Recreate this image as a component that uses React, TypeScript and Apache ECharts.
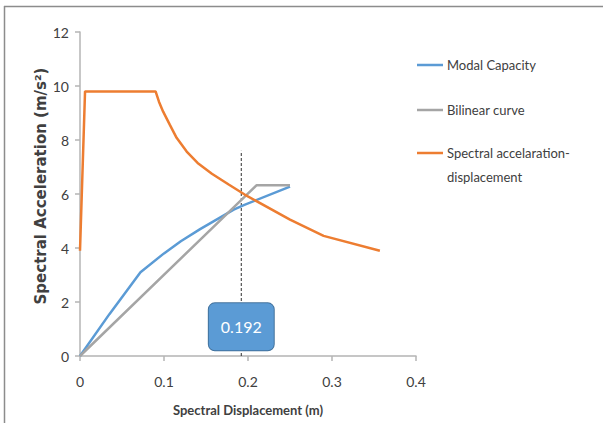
import React, { useEffect, useRef } from "react";
import * as echarts from "echarts";

// Capacity spectrum: displacement (m) vs. spectral acceleration (m/s²)
const modalCapacity: [number, number][] = [
  [0, 0], [0.035, 1.55], [0.072, 3.1], [0.1, 3.8], [0.12, 4.25],
  [0.143, 4.7], [0.183, 5.42], [0.195, 5.59], [0.25, 6.27],
];
const bilinearCurve: [number, number][] = [
  [0, 0], [0.21, 6.32], [0.25, 6.32],
];
const demandSpectrum: [number, number][] = [
  [0, 3.9], [0.006, 9.8], [0.09, 9.8], [0.094, 9.42], [0.099, 9.05],
  [0.107, 8.56], [0.115, 8.08], [0.127, 7.57], [0.14, 7.15],
  [0.157, 6.75], [0.177, 6.35], [0.196, 5.98], [0.25, 5.05],
  [0.29, 4.45], [0.357, 3.9],
];
const performancePoint = 0.192;
const guideTop = 7.6;
const xTicks = { min: 0, max: 0.4, interval: 0.1 };
const yTicks = { min: 0, max: 12, interval: 2 };

const BLUE = "#5B9BD5";
const GRAY = "#A5A5A5";
const ORANGE = "#ED7D31";
const TEXT = "#404040";
const AXIS = "#B4B4B4";
const FONT = "Lato, 'Open Sans', sans-serif";

const legendItems = [
  { name: "Modal Capacity", color: BLUE, y: 65 },
  { name: "Bilinear curve", color: GRAY, y: 110 },
  { name: "Spectral accelaration-\ndisplacement", color: ORANGE, y: 153 },
];

export default function App() {
  const ref = useRef<HTMLDivElement>(null);

  useEffect(() => {
    if (!ref.current) return;
    const chart = echarts.init(ref.current, undefined, { renderer: "svg" });

    const legendGraphics: any[] = [];
    legendItems.forEach((it) => {
      legendGraphics.push({
        type: "line",
        shape: { x1: 417, y1: it.y, x2: 443, y2: it.y },
        style: { stroke: it.color, lineWidth: 2.5 },
      });
      legendGraphics.push({
        type: "text",
        x: 447,
        y: it.y - 12,
        style: {
          text: it.name,
          fill: TEXT,
          font: `13px ${FONT}`,
          lineHeight: 24,
          verticalAlign: "top",
        },
      });
    });

    const lineSeries = (name: string, data: [number, number][], color: string) => ({
      name,
      type: "line",
      data,
      showSymbol: false,
      symbol: "none",
      lineStyle: { color, width: 2.5 },
      itemStyle: { color },
      z: 3,
    });

    chart.setOption({
      animation: false,
      backgroundColor: "#ffffff",
      grid: { left: 80, right: 187, top: 32, bottom: 67, containLabel: false },
      xAxis: {
        type: "value",
        ...xTicks,
        axisLine: { show: true, lineStyle: { color: AXIS, width: 1.5 } },
        axisTick: { show: true, length: 5, inside: false, lineStyle: { color: AXIS, width: 1.5 } },
        axisLabel: { color: TEXT, fontSize: 14, fontFamily: FONT, margin: 18 },
        splitLine: { show: false },
      },
      yAxis: {
        type: "value",
        ...yTicks,
        axisLine: { show: true, lineStyle: { color: AXIS, width: 1.5 } },
        axisTick: { show: true, length: 5, inside: false, lineStyle: { color: AXIS, width: 1.5 } },
        axisLabel: { color: TEXT, fontSize: 14, fontFamily: FONT, margin: 11 },
        splitLine: { show: false },
      },
      series: [
        {
          name: "guide",
          type: "line",
          data: [[performancePoint, 0], [performancePoint, guideTop]],
          symbol: "none",
          lineStyle: { color: "#303030", width: 1, type: [3, 2] },
          z: 2,
          silent: true,
        },
        lineSeries("Modal Capacity", modalCapacity, BLUE),
        lineSeries("Bilinear curve", bilinearCurve, GRAY),
        lineSeries("Spectral accelaration-displacement", demandSpectrum, ORANGE),
        {
          name: "performance",
          type: "scatter",
          data: [[performancePoint, 1.08]],
          symbolSize: 0,
          itemStyle: { opacity: 1 },
          z: 10,
          label: {
            show: true,
            position: "inside",
            formatter: () => String(performancePoint),
            color: "#ffffff",
            opacity: 1,
            fontSize: 16,
            fontFamily: FONT,
            backgroundColor: BLUE,
            borderColor: "#41719C",
            borderWidth: 1,
            borderRadius: 6,
            padding: [16, 12, 15, 12],
          },
        },
      ],
      graphic: [
        {
          type: "line",
          shape: { x1: 4.5, y1: 6, x2: 4.5, y2: 423 },
          style: { stroke: "#8C8C8C", lineWidth: 1.5 },
        },
        {
          type: "line",
          shape: { x1: 4, y1: 6.5, x2: 603, y2: 6.5 },
          style: { stroke: "#8C8C8C", lineWidth: 1.5 },
        },
        {
          type: "text",
          x: 41,
          y: 186,
          rotation: Math.PI / 2,
          style: {
            text: "Spectral Acceleration (m/s²)",
            fill: TEXT,
            font: "bold 15px 'DejaVu Sans', sans-serif",
            align: "center",
            verticalAlign: "middle",
          },
        },
        {
          type: "text",
          x: 248,
          y: 410,
          style: {
            text: "Spectral Displacement (m)",
            fill: TEXT,
            font: `bold 13px ${FONT}`,
            align: "center",
            verticalAlign: "middle",
          },
        },
        ...legendGraphics,
      ],
    });

    return () => chart.dispose();
  }, []);

  return (
    <div
      ref={ref}
      style={{ position: "fixed", left: 0, top: 0, width: 603, height: 423 }}
    />
  );
}
